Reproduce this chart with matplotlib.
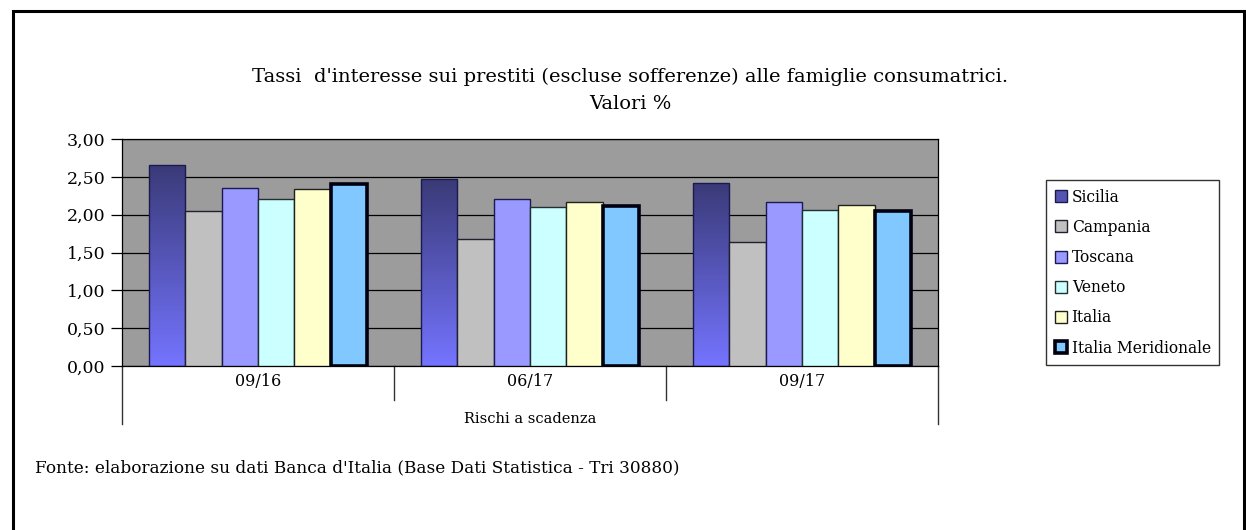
import numpy as np
import matplotlib
matplotlib.use("Agg")
import matplotlib.pyplot as plt
from matplotlib.patches import Rectangle
from matplotlib.colors import LinearSegmentedColormap

plt.rcParams['font.family'] = ['DejaVu Serif']

# data
periods = ["09/16", "06/17", "09/17"]
regions = ["Sicilia", "Campania", "Toscana", "Veneto", "Italia", "Italia Meridionale"]
sicilia = [2.66, 2.47, 2.42]
campania = [2.05, 1.68, 1.64]
toscana = [2.35, 2.21, 2.17]
veneto = [2.21, 2.10, 2.06]
italia = [2.34, 2.17, 2.13]
meridionale = [2.40, 2.11, 2.05]
yticks = [0.0, 0.5, 1.0, 1.5, 2.0, 2.5, 3.0]

series = [sicilia, campania, toscana, veneto, italia, meridionale]
colors = ["#5555B0", "#C0C0C0", "#9999FF", "#CCFFFF", "#FFFFCC", "#80C8FF"]
edges = ["#1A1A50", "#202030", "#1A1A50", "#203030", "#202020", "#000010"]
lws = [1.0, 1.0, 1.0, 1.0, 1.0, 2.6]

W, H = 1246, 530
fig = plt.figure(figsize=(W / 100, H / 100), dpi=100)
fig.patch.set_facecolor("white")

# outer frame
fig.add_artist(Rectangle((13 / W, -0.05), (1244 - 13) / W, 1.05 - 11 / H,
                         transform=fig.transFigure, fill=False,
                         edgecolor="black", lw=2.2))

ax = fig.add_axes([122 / W, 1 - 366 / H, (938 - 122) / W, (366 - 139) / H])
ax.set_facecolor("#9C9C9C")

x = np.arange(len(periods)) + 0.5
bw = 0.8 / len(regions)
grad = LinearSegmentedColormap.from_list("sic", ["#7474FF", "#3A3A78"])

handles = []
for i, (vals, name) in enumerate(zip(series, regions)):
    pos = x - 0.4 + bw * (i + 0.5)
    bars = ax.bar(pos, vals, width=bw, color=colors[i], edgecolor=edges[i],
                  linewidth=lws[i], label=name, zorder=3)
    handles.append(bars)
    if i == 0:
        for b in bars:
            b.set_facecolor("none")
            img = ax.imshow(np.linspace(0, 1, 100).reshape(-1, 1), cmap=grad,
                            aspect="auto", origin="lower",
                            extent=[b.get_x(), b.get_x() + b.get_width(), 0, b.get_height()],
                            zorder=2)
            img.set_clip_path(b)
ax.set_xlim(0, 3)
ax.set_ylim(0, 3)

ax.set_yticks(yticks)
ax.set_yticklabels([f"{v:.2f}".replace(".", ",") for v in yticks], fontsize=12.5)
ax.yaxis.grid(True, color="black", lw=0.9, zorder=1)
ax.set_axisbelow(True)
ax.tick_params(axis="y", length=8, width=0.9, pad=4)
ax.set_xticks([])
for s in ax.spines.values():
    s.set_linewidth(0.9)

# category labels and separators below the axis
for k, p in enumerate(periods):
    ax.text(k + 0.5, -0.2, p, ha="center", va="center", fontsize=11.5,
            clip_on=False)
for k in range(len(periods) + 1):
    bottom = -0.77 if k in (0, len(periods)) else -0.45
    ax.plot([k, k], [0, bottom], color="#333333", lw=1.0, clip_on=False)
ax.text(1.5, -0.7, "Rischi a scadenza", ha="center", va="center",
        fontsize=10.5, clip_on=False)

fig.text(630 / W, 1 - 77 / H,
         "Tassi  d'interesse sui prestiti (escluse sofferenze) alle famiglie consumatrici.",
         ha="center", va="center", fontsize=14)
fig.text(630 / W, 1 - 104 / H, "Valori %", ha="center", va="center", fontsize=14)
fig.text(35 / W, 1 - 468 / H,
         "Fonte: elaborazione su dati Banca d'Italia (Base Dati Statistica - Tri 30880)",
         ha="left", va="center", fontsize=12.2)

leg = fig.legend(handles=handles, labels=regions, loc="upper left",
                 bbox_to_anchor=(1046 / W, 1 - 180 / H), fontsize=11.2,
                 frameon=True, fancybox=False, edgecolor="black",
                 handlelength=0.8, handleheight=0.8, handletextpad=0.3,
                 labelspacing=0.85, borderpad=0.55, borderaxespad=0)
leg.get_frame().set_linewidth(1.0)
leg.legend_handles[0].set_facecolor("#5555B0")

fig.savefig("out.png", dpi=100)
